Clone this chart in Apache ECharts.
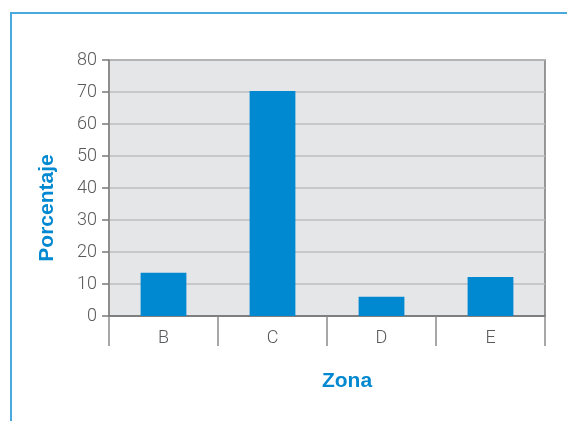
<!DOCTYPE html>
<html>
<head>
<meta charset="utf-8">
<script src="https://cdn.jsdelivr.net/npm/echarts@6/dist/echarts.min.js"></script>
<style>
  html, body { margin: 0; padding: 0; background: #ffffff; }
  #chart { width: 567px; height: 421px; }
</style>
</head>
<body>
<div id="chart"></div>
<script>
// Distribución por zona (porcentaje)
const zonas = ['B', 'C', 'D', 'E'];
const porcentajes = [13.5, 70.3, 6, 12.2];
const yTicks = [0, 10, 20, 30, 40, 50, 60, 70, 80];

const azul = '#0088d1';
const gris = '#58595b';
const tituloFuente = '"Liberation Sans", Arial, sans-serif';

const chart = echarts.init(document.getElementById('chart'), null, { renderer: 'canvas' });

chart.setOption({
  animation: false,
  backgroundColor: '#ffffff',
  textStyle: { fontFamily: 'Roboto, "Liberation Sans", sans-serif' },
  graphic: [
    // marco azul superior e izquierdo
    { type: 'line', shape: { x1: 10, y1: 13, x2: 567, y2: 13 }, style: { stroke: '#4aa9dc', lineWidth: 2 } },
    { type: 'line', shape: { x1: 11, y1: 12, x2: 11, y2: 421 }, style: { stroke: '#4aa9dc', lineWidth: 2 } },
    // títulos de ejes
    {
      type: 'text', x: 47, y: 208, rotation: Math.PI / 2,
      style: { text: 'Porcentaje', fill: azul, font: 'bold 21px ' + tituloFuente, align: 'center', verticalAlign: 'middle' }
    },
    {
      type: 'text', x: 347, y: 381,
      style: { text: 'Zona', fill: azul, font: 'bold 21px ' + tituloFuente, align: 'center', verticalAlign: 'middle' }
    }
  ],
  grid: {
    left: 109, right: 22, top: 60, bottom: 105,
    show: true,
    backgroundColor: '#e5e6e8',
    borderColor: '#7a7a7a',
    borderWidth: 1.5
  },
  xAxis: {
    type: 'category',
    data: zonas,
    boundaryGap: true,
    axisLine: { show: true, lineStyle: { color: '#6d6d6d', width: 1.5 } },
    axisTick: { show: true, length: 30, alignWithLabel: false, lineStyle: { color: '#8a8a8a', width: 1.5 } },
    axisLabel: { color: gris, fontSize: 18, fontWeight: 300, margin: 13 }
  },
  yAxis: {
    type: 'value',
    min: yTicks[0],
    max: yTicks[yTicks.length - 1],
    interval: yTicks[1] - yTicks[0],
    axisLine: { show: true, lineStyle: { color: '#8a8a8a', width: 1.5 } },
    axisTick: { show: true, length: 7, lineStyle: { color: '#7a7a7a', width: 1.5 } },
    axisLabel: { color: gris, fontSize: 18, fontWeight: 300, margin: 12 },
    splitLine: { show: true, lineStyle: { color: '#bdbdbf', width: 1.5 } }
  },
  series: [{
    type: 'bar',
    data: porcentajes,
    barWidth: '42%',
    itemStyle: { color: azul }
  }]
});
</script>
</body>
</html>
